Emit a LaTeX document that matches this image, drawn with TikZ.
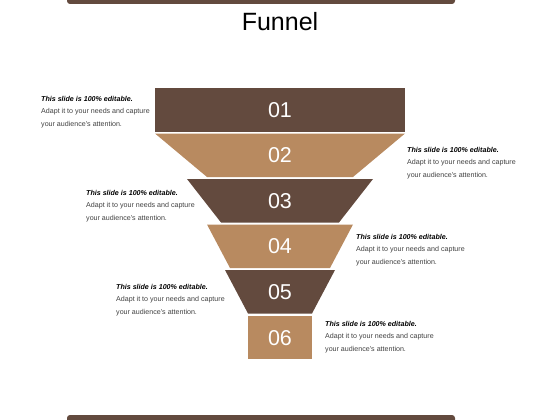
\documentclass[tikz,border=0pt]{standalone}
\usepackage{fontspec}
\setmainfont{Liberation Sans}
\definecolor{darkbrown}{RGB}{99,74,62}
\definecolor{tan}{RGB}{184,138,96}
\definecolor{bodygray}{RGB}{64,64,64}
\tikzset{
  darkpart/.style={fill=darkbrown},
  lightpart/.style={fill=tan},
  numlabel/.style={text=white,font=\fontsize{21.5}{21.5}\selectfont,inner sep=0},
  note/.style={anchor=north west,align=left,inner sep=0,text=bodygray,
    font=\fontsize{7.1}{12.5}\selectfont},
}
\newcommand{\notetext}{\textcolor{black}{\textbf{\textit{This slide is 100\% editable.}}}\\Adapt it to your needs and capture\\your audience's attention.}
\begin{document}
\begin{tikzpicture}[x=1pt,y=-1pt]
\useasboundingbox (0,0) rectangle (560,420);
% bars
\fill[darkbrown,rounded corners=3pt] (67,-10) rectangle (455,4);
\fill[darkbrown,rounded corners=3pt] (67,415) rectangle (455,430);
\node[font=\fontsize{25}{25}\selectfont,anchor=base] (title) at (280,31) {Funnel};
% funnel
\fill[darkpart] (155,88) rectangle (405,131.5);
\fill[lightpart] (155,133.5) -- (405,133.5) -- (353,177) -- (207,177) -- cycle;
\fill[darkpart] (187,179) -- (373,179) -- (339,222.5) -- (221,222.5) -- cycle;
\fill[lightpart] (207,224.5) -- (353,224.5) -- (330,268) -- (230,268) -- cycle;
\fill[darkpart] (225,270) -- (335,270) -- (312,313.5) -- (248,313.5) -- cycle;
\fill[lightpart] (248,315.5) rectangle (312,359);
\node[numlabel] (n1) at (280,110) {01};
\node[numlabel] (n2) at (280,155) {02};
\node[numlabel] (n3) at (280,201) {03};
\node[numlabel] (n4) at (280,246) {04};
\node[numlabel] (n5) at (280,292) {05};
\node[numlabel] (n6) at (280,338) {06};
% notes
\node[note] (t1) at (41,96) {\notetext};
\node[note] (t2) at (407,147) {\notetext};
\node[note] (t3) at (86,190) {\notetext};
\node[note] (t4) at (356,234) {\notetext};
\node[note] (t5) at (116,284) {\notetext};
\node[note] (t6) at (325,321) {\notetext};
\end{tikzpicture}
\end{document}
